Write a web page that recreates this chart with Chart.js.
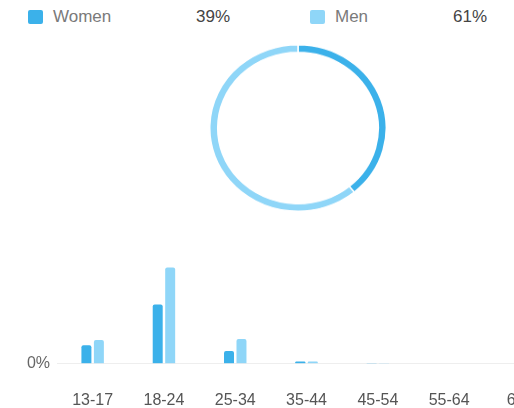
<!DOCTYPE html>
<html>
<head>
<meta charset="utf-8">
<script src="https://cdn.jsdelivr.net/npm/chart.js@4"></script>
<style>
    body {
        margin: 0;
        width: 514px;
        height: 408px;
        overflow: hidden;
        background: #fff;
        font-family: "Liberation Sans", Arial, sans-serif;
        position: relative;
    }
    .legend-item { position: absolute; top: 7px; height: 20px; line-height: 20px; font-size: 17px; }
    .swatch { position: absolute; top: 3px; width: 15px; height: 14px; border-radius: 2px; }
    .name { position: absolute; color: #7a7a7a; white-space: nowrap; }
    .share { position: absolute; color: #444; white-space: nowrap; }
    /* the source picture is slightly squashed vertically */
    #donut-wrap { position: absolute; left: 209px; top: 39px; width: 178px; height: 178px; transform: scaleY(0.943); }
    #bars-wrap { position: absolute; left: 0; top: 250px; width: 561px; height: 189px; }
</style>
</head>
<body>

<div id="legend"></div>
<div id="donut-wrap"><canvas id="donutChart"></canvas></div>
<div id="bars-wrap"><canvas id="ageChart"></canvas></div>

<script>
// gender split
const genderLabels = ['Women', 'Men'];
const genderShare = [39, 61];
const genderColors = ['#3bb1ea', '#8fd6f8'];

// age breakdown, % of audience
const ageGroups = ['13-17', '18-24', '25-34', '35-44', '45-54', '55-64', '65+'];
const womenByAge = [7.7, 24.5, 5.3, 1.0, 0.3, 0, 0];
const menByAge = [9.8, 39.8, 10.2, 1.0, 0.3, 0, 0];
const yTickValues = [0];

// legend row with percentages
function buildLegend() {
    const legend = document.getElementById('legend');
    const positions = [28, 310];
    const shareOffsets = [168, 143];
    genderLabels.forEach((label, i) => {
        const item = document.createElement('div');
        item.className = 'legend-item';
        item.style.left = positions[i] + 'px';
        item.innerHTML = `
            <span class="swatch" style="left:0;background:${genderColors[i]}"></span>
            <span class="name" style="left:25px">${label}</span>
            <span class="share" style="left:${shareOffsets[i]}px">${genderShare[i]}%</span>
        `;
        legend.appendChild(item);
    });
}
buildLegend();

// donut
new Chart(document.getElementById('donutChart'), {
    type: 'doughnut',
    data: {
        labels: genderLabels,
        datasets: [{
            data: genderShare,
            backgroundColor: genderColors,
            borderColor: '#fff',
            borderWidth: 1.5,
        }],
    },
    options: {
        responsive: true,
        maintainAspectRatio: false,
        animation: false,
        cutout: '91%',
        plugins: { legend: { display: false }, tooltip: { enabled: false } },
    },
});

// bars
new Chart(document.getElementById('ageChart'), {
    type: 'bar',
    data: {
        labels: ageGroups,
        datasets: [
            { label: genderLabels[0], data: womenByAge, backgroundColor: genderColors[0], borderRadius: 2 },
            { label: genderLabels[1], data: menByAge, backgroundColor: genderColors[1], borderRadius: 2 },
        ],
    },
    options: {
        responsive: true,
        maintainAspectRatio: false,
        animation: false,
        layout: { padding: { top: 17, bottom: 2, left: 0, right: 0 } },
        datasets: { bar: { categoryPercentage: 0.35, barPercentage: 0.8 } },
        plugins: { legend: { display: false }, tooltip: { enabled: false } },
        scales: {
            x: {
                grid: { display: false, drawTicks: false },
                border: { display: false },
                ticks: {
                    padding: 27,
                    color: '#555',
                    font: { family: '"Liberation Sans", Arial, sans-serif', size: 16 },
                    maxRotation: 0,
                    autoSkip: false,
                },
            },
            y: {
                min: 0,
                max: 40,
                afterFit: function (axis) { axis.width = 57; },
                afterBuildTicks: function (axis) {
                    axis.ticks = yTickValues.map(v => ({ value: v }));
                },
                grid: {
                    drawTicks: false,
                    color: '#eeeeee',
                    lineWidth: 1,
                },
                border: { display: false },
                ticks: {
                    padding: 7,
                    color: '#666',
                    font: { family: '"Liberation Sans", Arial, sans-serif', size: 16 },
                    callback: v => v + '%',
                },
            },
        },
    },
});
</script>
</body>
</html>
